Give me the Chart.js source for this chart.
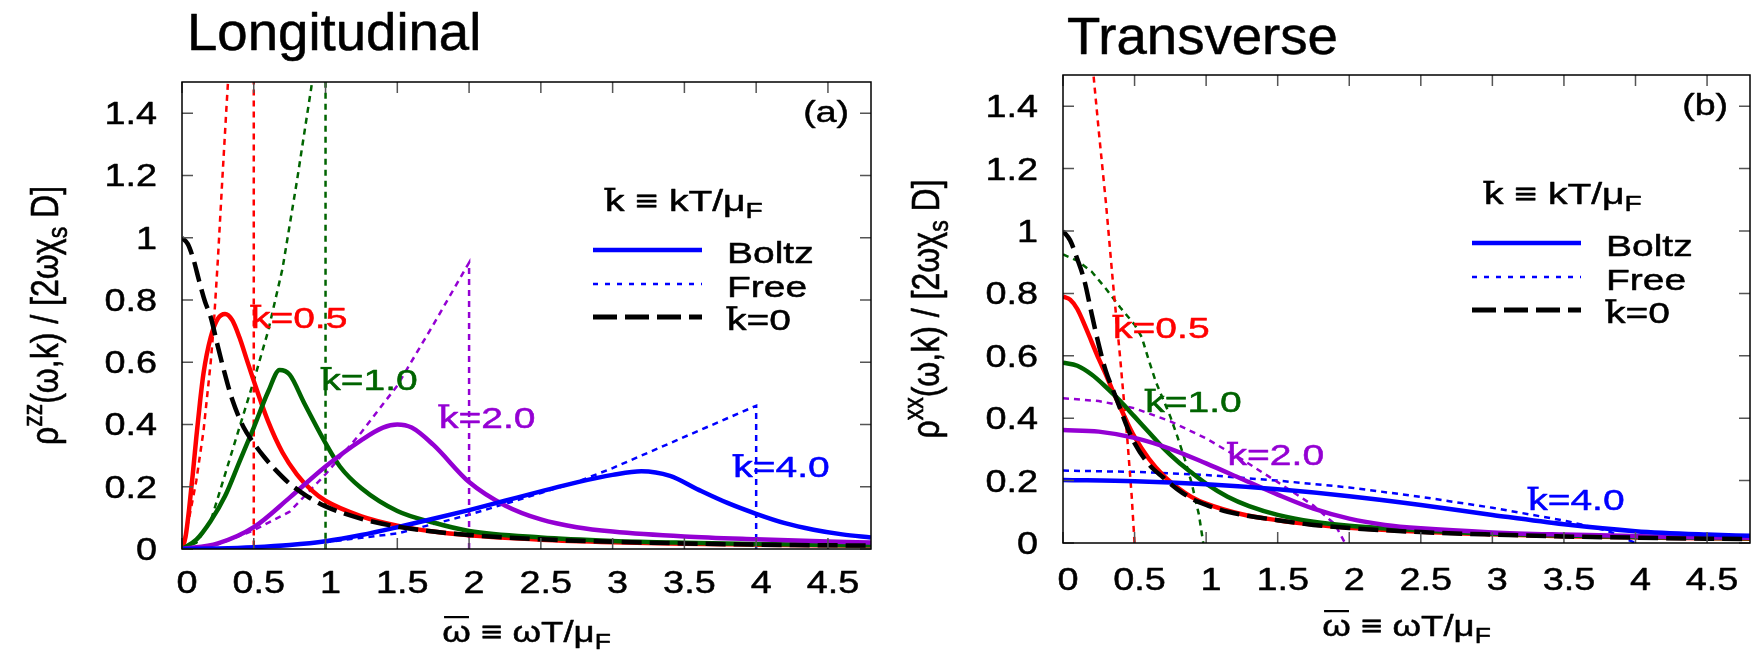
<!DOCTYPE html>
<html>
<head>
<meta charset="utf-8">
<script src="https://cdn.jsdelivr.net/npm/chart.js@4.4.1/dist/chart.umd.min.js"></script>
<style>
  html, body { margin: 0; padding: 0; background: #fff; }
  #wrap { position: relative; width: 1753px; height: 650px; }
  canvas { position: absolute; top: 0; }
</style>
</head>
<body>
<div id="wrap">
  <canvas id="longi" width="876" height="650" style="left:0"></canvas>
  <canvas id="trans" width="877" height="650" style="left:876px"></canvas>
</div>
<script>
// k-bar values and their colours
const kLabels = ['0.5', '1.0', '2.0', '4.0'];
const kColors = ['#ff0000', '#006400', '#9400d3', '#0000ff'];

// ---- longitudinal, rho^zz ----
const longZero = [[0,1.0],[0.04,0.98],[0.08,0.93],[0.12,0.86],[0.16,0.795],[0.2,0.745],[0.25,0.65],[0.3,0.56],[0.35,0.48],[0.43,0.39],[0.5,0.34],[0.57,0.297],[0.65,0.255],[0.75,0.21],[0.87,0.17],[1.0,0.137],[1.25,0.097],[1.5,0.072],[1.75,0.056],[2.0,0.045],[2.5,0.031],[3.0,0.023],[3.5,0.018],[4.0,0.014],[4.5,0.012],[4.8,0.011]];
const longBoltz05 = [[0,0],[0.025,0.04],[0.05,0.13],[0.075,0.24],[0.1,0.36],[0.125,0.47],[0.15,0.565],[0.2,0.68],[0.25,0.74],[0.3,0.755],[0.35,0.735],[0.4,0.68],[0.45,0.61],[0.5,0.54],[0.6,0.41],[0.7,0.31],[0.8,0.24],[0.9,0.19],[1.0,0.155],[1.25,0.105],[1.5,0.075],[1.75,0.056],[2.0,0.044],[2.5,0.03],[3.0,0.022],[3.5,0.017],[4.0,0.014],[4.5,0.012],[4.8,0.011]];
const longBoltz10 = [[0,0],[0.1,0.03],[0.2,0.09],[0.3,0.17],[0.4,0.28],[0.5,0.39],[0.6,0.505],[0.68,0.575],[0.75,0.56],[0.85,0.47],[1.0,0.34],[1.1,0.265],[1.25,0.195],[1.5,0.122],[1.75,0.085],[2.0,0.058],[2.5,0.037],[3.0,0.026],[3.5,0.02],[4.0,0.016],[4.5,0.013],[4.8,0.012]];
const longBoltz20 = [[0,0],[0.25,0.018],[0.5,0.07],[0.75,0.165],[1.0,0.265],[1.25,0.35],[1.4,0.39],[1.5,0.4],[1.6,0.39],[1.75,0.335],[2.0,0.215],[2.25,0.14],[2.5,0.095],[2.75,0.07],[3.0,0.056],[3.5,0.04],[4.0,0.031],[4.5,0.024],[4.8,0.021]];
const longBoltz40 = [[0,0],[0.25,0.002],[0.5,0.006],[0.75,0.013],[1.0,0.025],[1.25,0.045],[1.5,0.07],[1.75,0.097],[2.0,0.125],[2.25,0.155],[2.5,0.185],[2.75,0.214],[3.0,0.238],[3.2,0.25],[3.4,0.235],[3.6,0.19],[3.8,0.148],[4.0,0.113],[4.2,0.083],[4.4,0.062],[4.6,0.047],[4.8,0.037]];
const longFree05 = [[0,0],[0.05,0.1],[0.1,0.22],[0.15,0.38],[0.2,0.6],[0.22,0.71],[0.25,0.93],[0.28,1.18],[0.31,1.42],[0.34,1.65],[0.5,1.65],[0.5,0]];
const longFree10 = [[0,0],[0.1,0.02],[0.2,0.09],[0.3,0.24],[0.4,0.39],[0.5,0.54],[0.6,0.7],[0.7,0.9],[0.8,1.18],[0.9,1.48],[0.95,1.65],[1.0,1.65],[1.0,0]];
const longFree20 = [[0,0],[0.25,0.015],[0.5,0.06],[0.75,0.12],[1.0,0.24],[1.25,0.375],[1.5,0.525],[1.75,0.72],[2.0,0.92],[2.0,0]];
const longFree40 = [[0,0],[0.5,0.005],[1.0,0.022],[1.5,0.05],[2.0,0.11],[2.5,0.18],[2.75,0.215],[3.0,0.26],[3.5,0.36],[4.0,0.46],[4.0,0]];
const longLabelAt = [[0.48,0.71],[0.97,0.51],[1.79,0.39],[3.84,0.23]];

// ---- transverse, rho^xx ----
const transZero = [[0,1.0],[0.05,0.97],[0.1,0.91],[0.15,0.84],[0.2,0.735],[0.25,0.635],[0.3,0.55],[0.35,0.49],[0.4,0.43],[0.45,0.37],[0.5,0.32],[0.6,0.252],[0.7,0.21],[0.8,0.172],[0.9,0.142],[1.0,0.122],[1.15,0.1],[1.5,0.073],[1.75,0.058],[2.0,0.048],[2.5,0.035],[3.0,0.027],[3.5,0.021],[4.0,0.017],[4.5,0.014],[4.8,0.013]];
const transBoltz05 = [[0,0.79],[0.05,0.78],[0.1,0.75],[0.15,0.7],[0.2,0.645],[0.25,0.59],[0.3,0.54],[0.35,0.485],[0.4,0.435],[0.45,0.385],[0.5,0.34],[0.6,0.27],[0.7,0.217],[0.8,0.178],[0.9,0.147],[1.0,0.126],[1.25,0.092],[1.5,0.073],[1.75,0.059],[2.0,0.049],[2.5,0.036],[3.0,0.028],[3.5,0.022],[4.0,0.018],[4.5,0.015],[4.8,0.014]];
const transBoltz10 = [[0,0.578],[0.1,0.568],[0.2,0.54],[0.3,0.5],[0.4,0.455],[0.5,0.405],[0.6,0.355],[0.7,0.305],[0.8,0.262],[0.9,0.225],[1.0,0.19],[1.15,0.148],[1.3,0.118],[1.5,0.09],[1.75,0.068],[2.0,0.055],[2.5,0.04],[3.0,0.03],[3.5,0.024],[4.0,0.019],[4.5,0.016],[4.8,0.015]];
const transBoltz20 = [[0,0.362],[0.25,0.357],[0.5,0.337],[0.75,0.302],[1.0,0.255],[1.25,0.205],[1.5,0.155],[1.75,0.11],[2.0,0.078],[2.25,0.058],[2.5,0.047],[3.0,0.034],[3.5,0.027],[4.0,0.022],[4.5,0.018],[4.8,0.017]];
const transBoltz40 = [[0,0.202],[0.5,0.198],[1.0,0.188],[1.5,0.172],[2.0,0.15],[2.5,0.122],[3.0,0.09],[3.5,0.06],[4.0,0.038],[4.5,0.027],[4.8,0.023]];
const transFree05 = [[0.19,1.6],[0.213,1.5],[0.25,1.32],[0.3,1.09],[0.35,0.83],[0.4,0.59],[0.45,0.33],[0.48,0.15],[0.5,0]];
const transFree10 = [[0,0.925],[0.1,0.905],[0.2,0.87],[0.3,0.815],[0.4,0.755],[0.5,0.7],[0.55,0.66],[0.6,0.585],[0.65,0.515],[0.7,0.46],[0.75,0.405],[0.8,0.34],[0.85,0.27],[0.9,0.19],[0.95,0.09],[0.98,0]];
const transFree20 = [[0,0.464],[0.25,0.455],[0.5,0.432],[0.75,0.39],[1.0,0.335],[1.25,0.268],[1.5,0.195],[1.75,0.12],[1.9,0.06],[1.97,0]];
const transFree40 = [[0,0.232],[0.5,0.228],[1.0,0.218],[1.5,0.2],[2.0,0.178],[2.5,0.148],[3.0,0.113],[3.5,0.072],[3.8,0.04],[4.0,0]];
const transLabelAt = [[0.35,0.657],[0.575,0.42],[1.15,0.25],[3.25,0.106]];

const FONT = "'Liberation Sans', Arial, Helvetica, sans-serif";

function pts(arr) {
  return arr.map(p => ({x: p[0], y: p[1]}));
}

function fontFor(seg, size) {
  return ((seg.sub || seg.sup) ? size * 0.72 : size) + 'px ' + FONT;
}

// text with optional sub/superscripts and overbars, stretched a little sideways
function drawRich(ctx, segs, o) {
  const widths = segs.map(s => { ctx.font = fontFor(s, o.size); return ctx.measureText(s.t).width; });
  const total = widths.reduce((a, b) => a + b, 0);
  let cx = o.align === 'center' ? -total / 2 : o.align === 'right' ? -total : 0;
  ctx.save();
  ctx.translate(o.x, o.y);
  if (o.rotate) { ctx.rotate(-Math.PI / 2); ctx.scale(1, o.sx); }
  else ctx.scale(o.sx, 1);
  ctx.fillStyle = ctx.strokeStyle = o.color || '#000';
  ctx.textBaseline = 'alphabetic';
  ctx.textAlign = 'left';
  ctx.lineJoin = 'round';
  segs.forEach((s, i) => {
    ctx.font = fontFor(s, o.size);
    const dy = s.sup ? -0.42 * o.size : s.sub ? 0.24 * o.size : 0;
    ctx.fillText(s.t, cx, dy);
    ctx.lineWidth = 0.5;
    ctx.strokeText(s.t, cx, dy);
    if (s.bar) {
      ctx.lineWidth = 0.075 * o.size;
      ctx.beginPath();
      if (s.bar === 'k') {
        ctx.moveTo(cx - 0.02 * o.size, -0.74 * o.size);
        ctx.lineTo(cx + 0.27 * o.size, -0.74 * o.size);
      } else {
        ctx.moveTo(cx + 0.05 * o.size, -0.83 * o.size);
        ctx.lineTo(cx + widths[i] - 0.05 * o.size, -0.83 * o.size);
      }
      ctx.stroke();
    }
    cx += widths[i];
  });
  ctx.restore();
}

const fmt = v => String(Math.round(v * 10) / 10);
const onStep = (v, step) => Math.abs(v / step - Math.round(v / step)) < 1e-6;

function makeFramePlugin(p) {
  return {
    id: 'frame_' + p.id,
    afterDraw(chart) {
      const ctx = chart.ctx;
      const a = chart.chartArea;
      const x = chart.scales.x, y = chart.scales.y;
      const TL = 11;
      ctx.save();

      // inward tick marks on all four sides
      ctx.strokeStyle = '#555';
      ctx.lineWidth = 1.5;
      ctx.beginPath();
      x.ticks.forEach((t, i) => {
        if (!onStep(t.value, 0.5) || t.value > 4.6) return;
        const px = x.getPixelForTick(i);
        ctx.moveTo(px, a.bottom); ctx.lineTo(px, a.bottom - TL);
        ctx.moveTo(px, a.top); ctx.lineTo(px, a.top + TL);
      });
      y.ticks.forEach((t, i) => {
        if (!onStep(t.value, 0.2) || t.value > 1.45) return;
        const py = y.getPixelForTick(i);
        ctx.moveTo(a.left, py); ctx.lineTo(a.left + TL, py);
        ctx.moveTo(a.right, py); ctx.lineTo(a.right - TL, py);
      });
      ctx.stroke();

      ctx.strokeStyle = '#000';
      ctx.lineWidth = 1.5;
      ctx.strokeRect(a.left, a.top, a.right - a.left, a.bottom - a.top);

      // tick labels
      x.ticks.forEach((t, i) => {
        if (!onStep(t.value, 0.5) || t.value > 4.6) return;
        drawRich(ctx, [{t: fmt(t.value)}], {x: x.getPixelForTick(i) + 5, y: a.bottom + p.xLabelDy, size: 31, sx: 1.22, align: 'center'});
      });
      y.ticks.forEach((t, i) => {
        if (!onStep(t.value, 0.2) || t.value > 1.45) return;
        drawRich(ctx, [{t: fmt(t.value)}], {x: a.left - 25, y: y.getPixelForTick(i) + 11, size: 31, sx: 1.22, align: 'right'});
      });

      // axis titles
      drawRich(ctx, [{t: 'ω', bar: 'w'}, {t: ' ≡ ωT/μ'}, {t: 'F', sub: true}],
        {x: (a.left + a.right) / 2, y: a.bottom + 93, size: 30, sx: 1.22, align: 'center'});
      drawRich(ctx, [{t: 'ρ'}, {t: p.ySup, sup: true}, {t: '(ω,k) / [2ωχ'}, {t: 's', sub: true}, {t: ' D]'}],
        {x: a.left - 124, y: (a.top + a.bottom) / 2, size: 32, sx: 1.22, rotate: true, align: 'center'});

      // panel title and tag
      drawRich(ctx, [{t: p.title}], {x: p.titleAt[0], y: p.titleAt[1], size: 51, sx: 1.07});
      drawRich(ctx, [{t: p.tag}], {x: a.right - 22, y: a.top + 40, size: 30, sx: 1.25, align: 'right'});

      // curve labels
      p.labelAt.forEach((l, i) => {
        drawRich(ctx, [{t: 'k', bar: 'k'}, {t: '=' + kLabels[i]}],
          {x: x.getPixelForValue(l[0]), y: y.getPixelForValue(l[1]), size: 30, sx: 1.3, color: kColors[i]});
      });

      // key
      const lx0 = a.right - 278, lx1 = a.right - 169, tx = a.right - 144;
      drawRich(ctx, [{t: 'k', bar: 'k'}, {t: ' ≡ kT/μ'}, {t: 'F', sub: true}],
        {x: a.right - 266, y: a.top + 129, size: 30, sx: 1.3});
      const rows = [
        {y: a.top + 168, color: '#0000ff', width: 4.5, dash: [], text: [{t: 'Boltz'}]},
        {y: a.top + 202, color: '#0000ff', width: 2.5, dash: [5, 7], text: [{t: 'Free'}]},
        {y: a.top + 235, color: '#000', width: 5, dash: [24, 8], text: [{t: 'k', bar: 'k'}, {t: '=0'}]}
      ];
      rows.forEach(r => {
        ctx.save();
        ctx.strokeStyle = r.color;
        ctx.lineWidth = r.width;
        ctx.setLineDash(r.dash);
        ctx.beginPath();
        ctx.moveTo(lx0, r.y); ctx.lineTo(lx1, r.y);
        ctx.stroke();
        ctx.restore();
        drawRich(ctx, r.text, {x: tx, y: r.y + 12.5, size: 30, sx: 1.3});
      });

      ctx.restore();
    }
  };
}

function panelDatasets(zero, boltz, free) {
  const ds = [];
  ds.push({data: pts(zero), borderColor: '#000', borderWidth: 4.5, borderDash: [20, 8], tension: 0.4, cubicInterpolationMode: 'monotone'});
  boltz.slice().reverse().forEach((b, j) => {
    const i = boltz.length - 1 - j;
    ds.push({data: pts(b), borderColor: kColors[i], borderWidth: 4.5, tension: 0.4, cubicInterpolationMode: 'monotone'});
  });
  free.forEach((f, i) => {
    ds.push({data: pts(f), borderColor: kColors[i], borderWidth: 2.5, borderDash: [6, 5], tension: 0});
  });
  ds.forEach(d => { d.showLine = true; d.pointRadius = 0; d.fill = false; });
  return ds;
}

const panels = [
  {id: 'longi', title: 'Longitudinal', titleAt: [187, 50], tag: '(a)', ySup: 'zz',
   zero: longZero, boltz: [longBoltz05, longBoltz10, longBoltz20, longBoltz40],
   free: [longFree05, longFree10, longFree20, longFree40], labelAt: longLabelAt,
   padTop: 82, padRight: 5, yWidth: 182, xHeight: 101, xLabelDy: 44},
  {id: 'trans', title: 'Transverse', titleAt: [191, 54], tag: '(b)', ySup: 'xx',
   zero: transZero, boltz: [transBoltz05, transBoltz10, transBoltz20, transBoltz40],
   free: [transFree05, transFree10, transFree20, transFree40], labelAt: transLabelAt,
   padTop: 75, padRight: 3, yWidth: 187, xHeight: 107, xLabelDy: 47}
];

panels.forEach(p => {
  new Chart(document.getElementById(p.id), {
    type: 'scatter',
    data: {datasets: panelDatasets(p.zero, p.boltz, p.free)},
    options: {
      responsive: false,
      animation: false,
      events: [],
      layout: {padding: {left: 0, top: p.padTop, right: p.padRight, bottom: 0}},
      plugins: {legend: {display: false}, tooltip: {enabled: false}},
      elements: {line: {borderCapStyle: 'butt'}},
      scales: {
        x: {
          type: 'linear', min: 0, max: 4.8,
          ticks: {stepSize: 0.5, display: false, includeBounds: false},
          grid: {display: false}, border: {display: false},
          afterFit: s => { s.height = p.xHeight; }
        },
        y: {
          type: 'linear', min: 0, max: 1.5,
          ticks: {stepSize: 0.2, display: false, includeBounds: false},
          grid: {display: false}, border: {display: false},
          afterFit: s => { s.width = p.yWidth; }
        }
      }
    },
    plugins: [makeFramePlugin(p)]
  });
});
</script>
</body>
</html>
